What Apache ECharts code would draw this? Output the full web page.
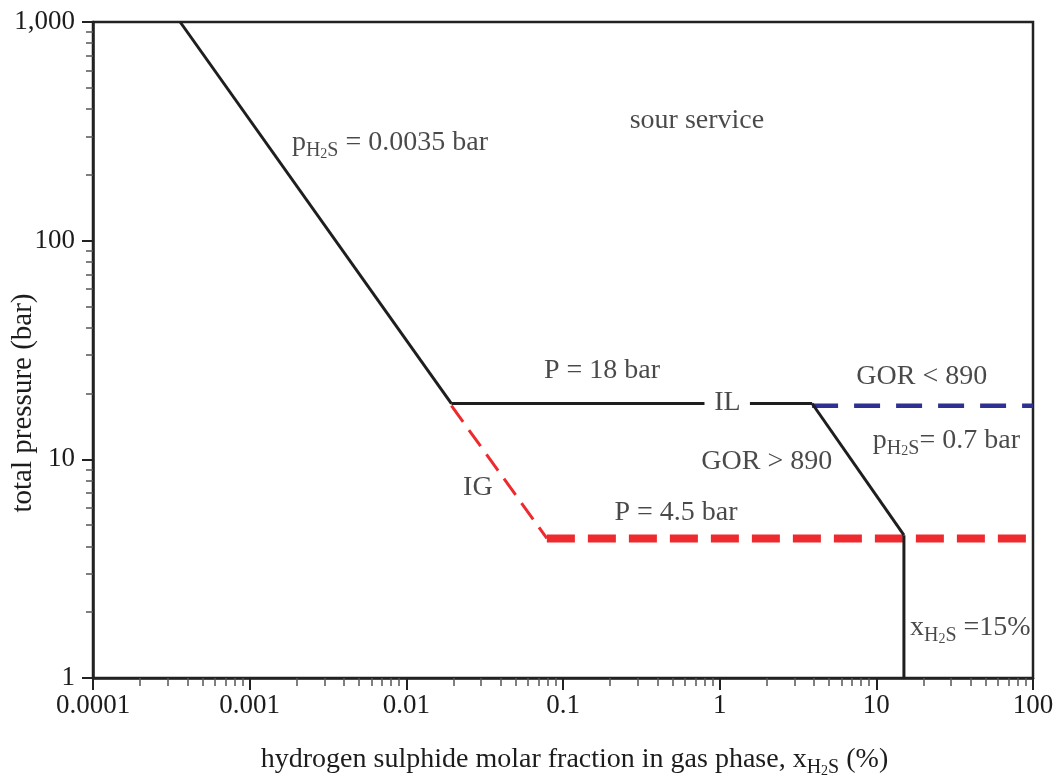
<!DOCTYPE html>
<html>
<head>
<meta charset="utf-8">
<script src="https://cdn.jsdelivr.net/npm/echarts@6/dist/echarts.min.js"></script>
<style>
html,body{margin:0;padding:0;background:#fff;}
#chart{width:1057px;height:782px;}
</style>
</head>
<body>
<div id="chart"></div>
<script>
// ---- data (x: H2S molar fraction %, y: total pressure bar) ----
const xTicks = [0.0001, 0.001, 0.01, 0.1, 1, 10, 100];
const yTicks = [1, 10, 100, 1000];
const lineP0035 = [[0.00036, 1000], [0.0194, 18]];          // pH2S = 0.0035 bar
const lineP18a = [[0.0194, 18], [0.80, 18]];                // P = 18 bar (left of IL)
const lineP18b = [[1.56, 18], [3.89, 18]];                  // P = 18 bar (right of IL)
const lineP07 = [[3.89, 18], [15, 4.5]];                    // pH2S = 0.7 bar
const lineX15 = [[15, 4.5], [15, 1]];                       // xH2S = 15 %
const lineGOR = [[3.89, 17.6], [100, 17.6]];                // GOR < 890
const lineIG = [[0.0194, 17.6], [0.0789, 4.35]];            // IG
const lineP45 = [[0.0789, 4.35], [100, 4.35]];              // P = 4.5 bar
const annotations = [
  {text: '{n|p}{s|H}{ss|2}{s|S}{n| = 0.0035 bar}', x: 0.00186, y: 274, align: 'left'},
  {text: '{n|sour service}', x: 0.716, y: 345, align: 'center'},
  {text: '{n|P = 18 bar}', x: 0.1775, y: 24.8, align: 'center'},
  {text: '{n|IL}', x: 1.12, y: 17.7, align: 'center'},
  {text: '{n|GOR < 890}', x: 19.5, y: 23.5, align: 'center'},
  {text: '{n|p}{s|H}{ss|2}{s|S}{n|= 0.7 bar}', x: 9.5, y: 11.9, align: 'left'},
  {text: '{n|GOR > 890}', x: 2.0, y: 9.6, align: 'center'},
  {text: '{n|IG}', x: 0.0286, y: 7.24, align: 'center'},
  {text: '{n|P = 4.5 bar}', x: 0.526, y: 5.57, align: 'center'},
  {text: '{n|x}{s|H}{ss|2}{s|S}{n| =15%}', x: 16.4, y: 1.66, align: 'left'}
];

const FONT = '"Liberation Serif", "DejaVu Serif", serif';
const TXT = '#1c1c1c';
const rich = {
  n: {fontFamily: FONT, fontSize: 28, color: TXT, lineHeight: 32, verticalAlign: 'top'},
  s: {fontFamily: FONT, fontSize: 20, color: TXT, lineHeight: 20, verticalAlign: 'bottom', padding: [12, 0, 0, 0]},
  ss: {fontFamily: FONT, fontSize: 14, color: TXT, lineHeight: 14, verticalAlign: 'bottom', padding: [15, 0, 0, 0]}
};

function lineSeries(data, color, width, type, z) {
  return {
    type: 'line', data: data, symbol: 'none', silent: true, z: z || 3,
    lineStyle: {color: color, width: width, type: type || 'solid', cap: 'butt'},
    animation: false
  };
}

const chart = echarts.init(document.getElementById('chart'));
chart.setOption({
  animation: false,
  backgroundColor: '#fff',
  grid: {left: 93, right: 24, top: 22, bottom: 104, show: true, borderColor: '#222', borderWidth: 2.5,
    backgroundColor: 'transparent', containLabel: false, outerBoundsMode: 'none'},
  xAxis: {
    type: 'log', min: 0.0001, max: 100, logBase: 10,
    name: '{n|hydrogen sulphide molar fraction in gas phase, x}{s|H}{ss|2}{s|S}{n| (%)}',
    nameLocation: 'middle', nameGap: 68, nameMoveOverlap: false,
    nameTextStyle: {rich: rich, padding: [0, 0, 0, 23]},
    axisLine: {show: true, lineStyle: {color: '#222', width: 2.5}},
    axisTick: {show: true, inside: false, length: 12, lineStyle: {color: '#222', width: 2}},
    minorTick: {show: true, splitNumber: 9, length: 8, lineStyle: {color: '#555', width: 1.5}},
    axisLabel: {margin: 14, fontFamily: FONT, fontSize: 27, color: TXT, hideOverlap: false,
      formatter: function (v) { return String(v); }},
    splitLine: {show: false}
  },
  yAxis: {
    type: 'log', min: 1, max: 1000, logBase: 10,
    name: 'total pressure (bar)', nameLocation: 'middle', nameGap: 55, nameMoveOverlap: false,
    nameTextStyle: {fontFamily: FONT, fontSize: 29, color: TXT, padding: [0, 0, 0, -106]},
    axisLine: {show: true, lineStyle: {color: '#222', width: 2.5}},
    axisTick: {show: true, inside: false, length: 11, lineStyle: {color: '#222', width: 2}},
    minorTick: {show: true, splitNumber: 9, length: 7, lineStyle: {color: '#555', width: 1.5}},
    axisLabel: {margin: 18, fontFamily: FONT, fontSize: 27, color: TXT, hideOverlap: false,
      formatter: function (v) { return v >= 1000 ? v.toLocaleString('en-US') : String(v); }},
    splitLine: {show: false}
  },
  series: [
    lineSeries(lineIG, '#ee2a2e', 3, [20, 10], 2),
    lineSeries(lineP45, '#ee2a2e', 8, [28, 13], 2),
    lineSeries(lineGOR, '#2e3192', 4.5, [26, 16], 2),
    lineSeries(lineP0035, '#1e1e1e', 3),
    lineSeries(lineP18a, '#1e1e1e', 3),
    lineSeries(lineP18b, '#1e1e1e', 3),
    lineSeries(lineP07, '#1e1e1e', 3),
    lineSeries(lineX15, '#1e1e1e', 3),
    {
      type: 'scatter', symbolSize: 0, silent: true, z: 5,
      data: annotations.map(function (a) {
        return {
          value: [a.x, a.y],
          label: {show: true, position: 'inside', formatter: a.text, rich: rich, align: a.align, verticalAlign: 'middle'}
        };
      })
    }
  ]
});
</script>
</body>
</html>
